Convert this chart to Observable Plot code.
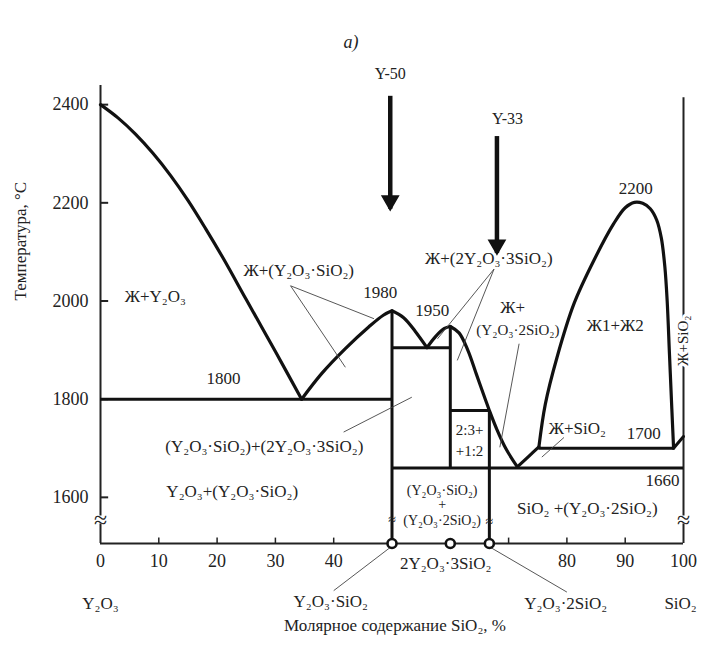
<!DOCTYPE html>
<html><head><meta charset="utf-8">
<script src="https://cdn.jsdelivr.net/npm/d3@7"></script>
<script src="https://cdn.jsdelivr.net/npm/@observablehq/plot@0.6"></script>
<style>
body{margin:0;background:#fff;}
svg{display:block;}
</style></head><body><div id="chart"></div>
<script>
// ---------- data ----------
const tMin = 1506, tMax = 2439;
const yTicks = [1600, 1800, 2000, 2200, 2400];
const xTickMarks = [10, 20, 30, 40, 70, 80, 90];
const xTickLabels = [0, 10, 20, 30, 40, 80, 90, 100];

// liquidus / boundary curves  [mol% SiO2, °C]
const liqY2O3 = [[0,2400],[3,2373],[6,2340],[9,2301],[12,2256],[15,2205],[18,2148],[21,2088],[25,2003],[30,1897],[34.5,1800]];
const liqYS = [[34.5,1800],[38,1853],[42,1903],[46,1947],[48.5,1971],[50,1980]];
const liqYSdown = [[50,1980],[52,1966],[54,1938],[56,1905]];
const liq23 = [[56,1905],[57.5,1928],[59,1944],[60,1948]];
const liq23down = [[60,1948],[61.5,1935],[63,1900],[64.5,1850],[66,1800],[66.7,1777],[68,1738],[69.5,1700],[71.5,1662]];
const liqSiO2 = [[71.5,1662],[73.5,1684],[75.2,1703]];
const gapDome = [[75.2,1703],[76.3,1790],[78.3,1885],[81.2,1994],[84.6,2082],[88,2157],[90,2190],[91.6,2201],[93,2199],[94.3,2188],[95.4,2165],[96.2,2128],[96.8,2070],[97.2,2000],[97.6,1890],[98,1780],[98.3,1700]];
const liqCrist = [[98.3,1700],[100,1724]];

// horizontal isotherm segments
const isotherms = [
  {t:1800, from:0, to:50},
  {t:1905, from:50, to:60},
  {t:1777, from:60, to:66.7},
  {t:1700, from:75.2, to:98.3},
  {t:1660, from:50, to:100}
];
// compound verticals
const compounds = [
  {x:50, from:tMin, to:1980},
  {x:60, from:1660, to:1948},
  {x:66.7, from:tMin, to:1777}
];
const compoundPoints = [50, 60, 66.7];

// leader lines
const leaders = [
  {x1:32.6,t1:2031,x2:46.9,t2:1964},
  {x1:32.6,t1:2031,x2:42.0,t2:1865},
  {x1:67.5,t1:2065,x2:57.8,t2:1923},
  {x1:67.5,t1:2065,x2:61.2,t2:1879},
  {x1:71.8,t1:1913,x2:68.5,t2:1702},
  {x1:79.5,t1:1722,x2:75.7,t2:1682},
  {x1:41.7,t1:1733,x2:53.4,t2:1804},
  {x1:49.7,t1:1498,x2:40.0,t2:1410},
  {x1:66.9,t1:1498,x2:80.0,t2:1407}
];

// sample arrows
const samples = [
  {name:"Y-50", x:49.7, top:2418, tip:2188, labelT:2463},
  {name:"Y-33", x:68.0, top:2336, tip:2098, labelT:2372, labelX:69.8}
];

// phase field labels
const fieldLabels = [
  {text:"Ж+Y₂O₃", x:9.4, t:2009},
  {text:"Ж+(Y₂O₃·SiO₂)", x:34.0, t:2062},
  {text:"1980", x:48.0, t:2017},
  {text:"1950", x:56.9, t:1981},
  {text:"1800", x:21.1, t:1842},
  {text:"Ж+(2Y₂O₃·3SiO₂)", x:66.6, t:2086},
  {text:"Ж+", x:70.7, t:1987},
  {text:"Ж1+Ж2", x:88.3, t:1950},
  {text:"Ж+SiO₂", x:81.8, t:1740},
  {text:"1700", x:93.2, t:1730},
  {text:"1660", x:96.4, t:1634},
  {text:"2200", x:91.8, t:2229},
  {text:"(Y₂O₃·SiO₂)+(2Y₂O₃·3SiO₂)", x:28.1, t:1704},
  {text:"Y₂O₃+(Y₂O₃·SiO₂)", x:22.6, t:1612},
  {text:"SiO₂ +(Y₂O₃·2SiO₂)", x:83.5, t:1577}
];
const smallLabels = [
  {text:"(Y₂O₃·2SiO₂)", x:71.6, t:1940},
  {text:"2:3+", x:63.3, t:1736},
  {text:"+1:2", x:63.3, t:1695}
];
const boxLabels = [
  {text:"(Y₂O₃·SiO₂)", x:58.6, t:1614},
  {text:"+", x:58.6, t:1585},
  {text:"(Y₂O₃·2SiO₂)", x:58.6, t:1553}
];
const compoundNames = [
  {text:"Y₂O₃", x:0, t:1384},
  {text:"Y₂O₃·SiO₂", x:39.5, t:1388},
  {text:"2Y₂O₃·3SiO₂", x:59.2, t:1466},
  {text:"Y₂O₃·2SiO₂", x:79.8, t:1384},
  {text:"SiO₂", x:99.5, t:1384}
];
const sideLabel = [{text:"Ж+SiO₂", x:100, t:1919}];
const axisBreaks = [{x:0, lo:1546, hi:1562}, {x:100, lo:1546, hi:1562}];
const lineBreaks = [{x:50, t:1555}, {x:66.7, t:1551}];

// ---------- chart ----------
const F = "'Liberation Serif', 'Times New Roman', serif";
const P = d => d[0], T = d => d[1];
const curve = (data) => Plot.line(data, {x:P, y:T, curve:"catmull-rom", stroke:"#111", strokeWidth:3.2, strokeLinejoin:"round", strokeLinecap:"round"});

const chart = Plot.plot({
  width:702, height:648,
  marginLeft:100, marginRight:19, marginTop:85, marginBottom:105,
  x:{domain:[0,100]},
  y:{domain:[tMin,tMax]},
  style:{fontFamily:F, fontSize:"17px", color:"#222", background:"#fff"},
  marks:[
    // axes frame
    Plot.ruleX(axisBreaks, {x:"x", y1:tMin, y2:"lo", stroke:"#222", strokeWidth:2}),
    Plot.ruleX([axisBreaks[0]], {x:"x", y1:"hi", y2:tMax, stroke:"#222", strokeWidth:2}),
    Plot.ruleX([axisBreaks[1]], {x:"x", y1:"hi", y2:2414, stroke:"#222", strokeWidth:2}),
    Plot.ruleY([tMin], {x1:0, x2:100, stroke:"#222", strokeWidth:2.2}),
    Plot.text(axisBreaks, {x:"x", y:d => (d.lo+d.hi)/2, text:() => "≈", fontSize:24, fill:"#222"}),
    Plot.ruleY(yTicks, {y:d => d, x1:0, x2:1.4, stroke:"#222", strokeWidth:2}),
    Plot.ruleX(xTickMarks, {x:d => d, y1:tMin, y2:tMin+11, stroke:"#222", strokeWidth:1.5}),
    Plot.axisY({ticks:yTicks, tickFormat:d => String(d), tickSize:0, tickPadding:12, label:null, fontSize:18}),
    Plot.axisX({ticks:xTickLabels, tickFormat:d => String(d), tickSize:0, tickPadding:11, label:null, fontSize:18}),
    Plot.text(["Температура, °C"], {frameAnchor:"left", dx:-80, dy:-14, rotate:-90, fontSize:17}),
    Plot.text(["Молярное содержание SiO₂, %"], {frameAnchor:"bottom", dx:3, dy:87, fontSize:17}),
    Plot.text(["а)"], {frameAnchor:"top", dx:-41, dy:-50, fontSize:18, fontStyle:"italic"}),

    // phase boundaries
    curve(liqY2O3), curve(liqYS), curve(liqYSdown), curve(liq23), curve(liq23down),
    curve(liqSiO2), curve(gapDome),
    Plot.line(liqCrist, {x:P, y:T, stroke:"#111", strokeWidth:3}),
    Plot.ruleY(isotherms, {y:"t", x1:"from", x2:"to", stroke:"#111", strokeWidth:3}),
    Plot.ruleX(compounds, {x:"x", y1:"from", y2:"to", stroke:"#111", strokeWidth:3}),
    Plot.text(lineBreaks, {x:"x", y:"t", text:() => "≈", fontSize:14, fill:"#222"}),

    // leaders
    Plot.link(leaders, {x1:"x1", y1:"t1", x2:"x2", y2:"t2", stroke:"#444", strokeWidth:0.9}),

    // compound points on axis
    Plot.dot(compoundPoints, {x:d => d, y:tMin, r:4.5, stroke:"#111", strokeWidth:2.6, fill:"white"}),

    // sample arrows
    Plot.link(samples, {x1:"x", x2:"x", y1:"top", y2:"tip", stroke:"#111", strokeWidth:4.5}),
    Plot.dot(samples, {x:"x", y:"tip", symbol:"triangle", r:6, rotate:180, fill:"#111", stroke:"#111", dy:-8}),
    Plot.text(samples, {x:d => d.labelX ?? d.x, y:"labelT", text:"name", fontSize:16}),

    // labels
    Plot.text(fieldLabels, {x:"x", y:"t", text:"text", fontSize:17}),
    Plot.text(smallLabels, {x:"x", y:"t", text:"text", fontSize:15}),
    Plot.text(boxLabels, {x:"x", y:"t", text:"text", fontSize:14, lineHeight:1}),
    Plot.text(compoundNames, {x:"x", y:"t", text:"text", fontSize:17}),
    Plot.text(sideLabel, {x:"x", y:"t", text:"text", rotate:-90, fontSize:15, stroke:"white", strokeWidth:6, paintOrder:"stroke", fill:"#222"})
  ]
});
document.getElementById("chart").append(chart);
</script>
</body></html>
